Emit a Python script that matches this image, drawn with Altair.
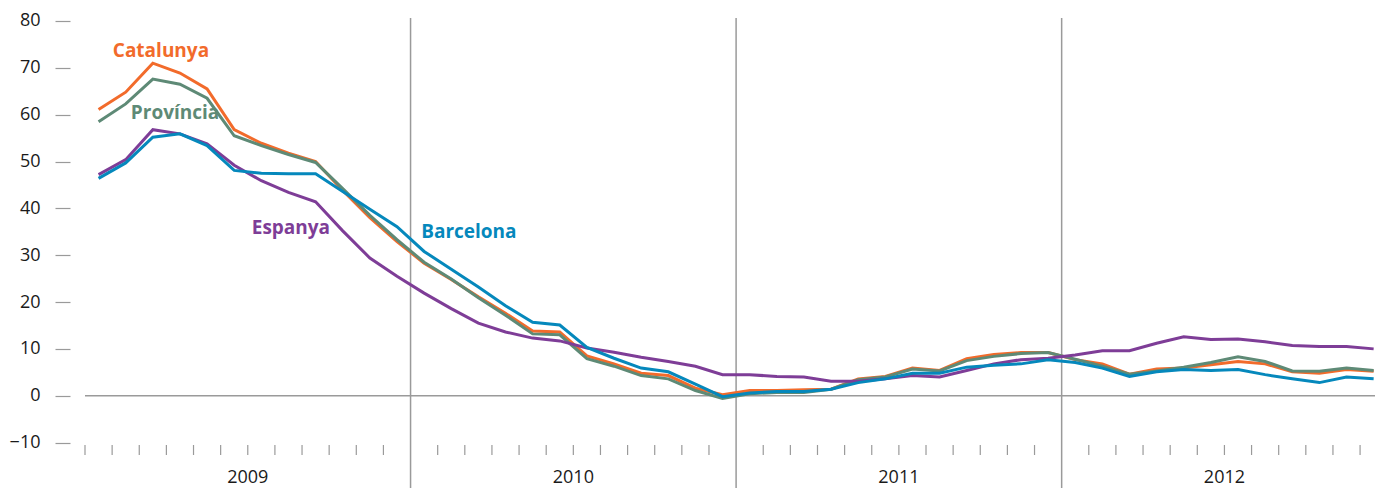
import altair as alt
import pandas as pd

# ---- data (monthly values, Jan 2009 .. Dec 2012) ----
series_names = ["Catalunya", "Província", "Espanya", "Barcelona"]
series_colors = ["#F26B2B", "#5E8A76", "#7E3D97", "#0588BC"]

catalunya = [61.1, 64.8, 71.0, 68.9, 65.5, 56.8, 53.9, 51.8, 50.0, 43.8, 38.0, 32.9,
             28.3, 24.8, 21.1, 17.6, 13.8, 13.6, 8.5, 6.8, 4.8, 4.3, 1.6, 0.2,
             1.1, 1.1, 1.3, 1.4, 3.6, 4.1, 5.9, 5.4, 7.9, 8.8, 9.2, 9.2,
             7.7, 6.8, 4.6, 5.7, 5.9, 6.6, 7.3, 6.8, 5.1, 4.8, 5.6, 5.2]
provincia = [58.5, 62.3, 67.6, 66.5, 63.5, 55.5, 53.4, 51.5, 49.8, 44.2, 38.5, 33.3,
             28.5, 24.9, 20.9, 17.2, 13.2, 13.0, 7.9, 6.3, 4.3, 3.6, 1.1, -0.6,
             0.4, 0.7, 0.7, 1.4, 3.4, 4.0, 5.7, 5.3, 7.5, 8.4, 9.0, 9.2,
             7.8, 6.3, 4.6, 5.3, 6.1, 7.1, 8.3, 7.3, 5.3, 5.2, 5.9, 5.4]
espanya = [47.2, 50.4, 56.8, 55.9, 53.8, 49.2, 45.9, 43.4, 41.4, 35.2, 29.4, 25.5,
           21.9, 18.6, 15.5, 13.6, 12.3, 11.7, 10.2, 9.3, 8.2, 7.3, 6.3, 4.5,
           4.5, 4.1, 4.0, 3.1, 3.1, 3.6, 4.3, 4.0, 5.4, 6.8, 7.7, 8.0,
           8.7, 9.6, 9.6, 11.2, 12.6, 12.0, 12.1, 11.5, 10.7, 10.5, 10.5, 10.0]
barcelona = [46.4, 49.7, 55.2, 55.9, 53.4, 48.1, 47.5, 47.4, 47.4, 43.6, 39.8, 36.1,
             30.8, 27.0, 23.2, 19.2, 15.7, 15.1, 10.3, 8.0, 5.9, 5.1, 2.5, -0.2,
             0.6, 0.9, 0.9, 1.4, 2.8, 3.6, 4.8, 4.8, 6.1, 6.5, 6.8, 7.7,
             7.1, 5.9, 4.1, 5.1, 5.6, 5.4, 5.6, 4.5, 3.6, 2.8, 4.0, 3.6]

years = ["2009", "2010", "2011", "2012"]
y_ticks = [-10, 0, 10, 20, 30, 40, 50, 60, 70, 80]

# label anchors in data space (month index, value)
label_month = [2.80, 3.32, 7.59, 14.15]
label_value = [73.7, 60.4, 35.7, 35.0]

# ---- tables ----
all_vals = [catalunya, provincia, espanya, barcelona]
rows = []
for name, vals in zip(series_names, all_vals):
    for m, v in enumerate(vals):
        rows.append({"serie": name, "mes": m + 0.5, "valor": v})
df = pd.DataFrame(rows)

n_months = len(catalunya)
W, H = 1290, 458
PB = 12
XD = [0, 47.55]
YD = [-17.14, 80.64]
GRAY = "#9a9a9a"
FONT = "Open Sans"

xs = alt.Scale(domain=XD, nice=False, zero=False)
ys = alt.Scale(domain=YD, nice=False, zero=False)
color = alt.Color("serie:N", scale=alt.Scale(domain=series_names, range=series_colors), legend=None)

base_y = alt.Y("valor:Q", scale=ys,
               axis=alt.Axis(values=y_ticks, domain=False, grid=False, tickSize=15, offset=15,
                             labelPadding=15, tickColor=GRAY, tickWidth=1.2, labelFont=FONT,
                             labelFontSize=18, labelColor="#1a1a1a", title=None))

# zero line
zero = alt.Chart(pd.DataFrame({"valor": [0]})).mark_rule(color=GRAY, strokeWidth=1.5).encode(
    y=base_y, x=alt.value(0), x2=alt.value(W))

# year separators
year_bounds = [12, 24, 36]
seps = alt.Chart(pd.DataFrame({"mes": year_bounds})).mark_rule(color=GRAY, strokeWidth=1.5).encode(
    x=alt.X("mes:Q", scale=xs, axis=None), y=alt.value(0), y2=alt.value(H + PB))

# month ticks
tick_pos = [k for k in range(n_months) if k not in year_bounds]
ticks = alt.Chart(pd.DataFrame({"mes": tick_pos})).mark_rule(color=GRAY, strokeWidth=1.2).encode(
    x=alt.X("mes:Q", scale=xs, axis=None), y=alt.value(427), y2=alt.value(437))

# year labels
ylab = alt.Chart(pd.DataFrame({"mes": [6, 18, 30, 42], "any": years})).mark_text(
    font=FONT, fontSize=18, color="#1a1a1a", baseline="middle", align="center").encode(
    x=alt.X("mes:Q", scale=xs, axis=None), y=alt.value(460), text="any:N")

# lines
lines = []
for name in series_names:
    lines.append(alt.Chart(df[df["serie"] == name]).mark_line(strokeWidth=3, strokeJoin="miter").encode(
        x=alt.X("mes:Q", scale=xs, axis=None), y=base_y, color=color, order="mes:Q"))

# series labels
lab_df = pd.DataFrame({"serie": series_names, "mes": label_month, "valor": label_value})
labels = alt.Chart(lab_df).mark_text(font=FONT, fontWeight="bold", fontSize=19,
                                     align="center", baseline="middle").encode(
    x=alt.X("mes:Q", scale=xs, axis=None), y=base_y, text="serie:N", color=color)

chart = alt.layer(zero, seps, ticks, ylab, *lines, labels).properties(
    width=W, height=H,
    autosize=alt.AutoSizeParams(type="none"),
    padding={"left": 77, "top": 10, "right": 0, "bottom": PB},
    background="white",
).configure_view(stroke=None)

chart.save("out.html", embed_options={"renderer": "svg", "actions": False})
